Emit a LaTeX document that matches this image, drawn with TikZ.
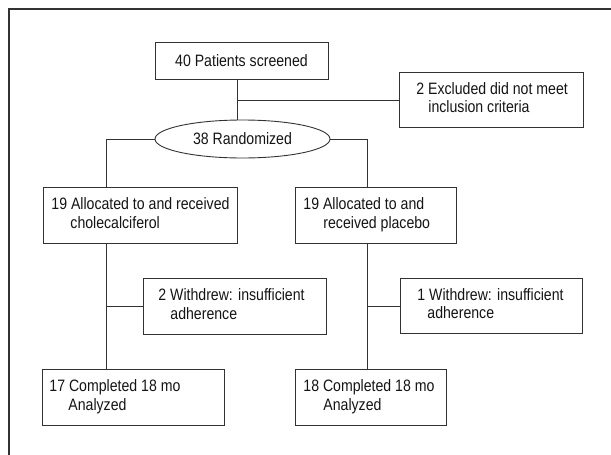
\documentclass[tikz,border=0pt]{standalone}
\usepackage{fontspec}
\setmainfont[FakeStretch=0.855]{Liberation Sans}
\usetikzlibrary{shapes.geometric}
\definecolor{ln}{RGB}{50,50,50}
\definecolor{tx}{RGB}{20,20,20}
\newcommand{\twol}[4]{\makebox[#1][l]{\begin{tabular}{@{}l@{}}#3\\\hspace*{#2}#4\end{tabular}}}
\begin{document}
\begin{tikzpicture}[x=1pt,y=-1pt,
  every node/.style={text=tx, font=\fontsize{16.5}{18.3}\selectfont},
  flowbox/.style={draw=ln, line width=0.9pt, inner ysep=0pt, anchor=north west, minimum height=56pt},
  conn/.style={draw=ln, line width=0.9pt},
  frame/.style={draw=ln, line width=1.3pt}]
\useasboundingbox (0,0) rectangle (611,455);
\draw[frame] (9,455) -- (9,9) -- (611,9);
% nodes
\node[draw=ln, line width=0.9pt, minimum width=173pt, minimum height=37pt, inner sep=0pt] (scr) at (241.5,60.5) {40 Patients screened};
\node[flowbox, minimum width=184pt, minimum height=55pt, inner xsep=17pt] (exc) at (399,72) {\twol{150pt}{12pt}{2 Excluded did not meet}{inclusion criteria}};
\node[ellipse, draw=ln, line width=0.9pt, minimum width=175pt, minimum height=38pt, inner sep=0pt] (rand) at (242.5,139) {38 Randomized};
\node[flowbox, minimum width=194pt, inner xsep=8pt] (alL) at (43,187) {\twol{178pt}{19pt}{19 Allocated to and received}{cholecalciferol}};
\node[flowbox, minimum width=161pt, inner xsep=8pt] (alR) at (295,187) {\twol{145pt}{20pt}{19 Allocated to and}{received placebo}};
\node[flowbox, minimum width=183pt, inner xsep=15pt] (wL) at (143,278) {\twol{153pt}{12pt}{2 Withdrew: insufficient}{adherence}};
\node[flowbox, minimum width=182pt, minimum height=55pt, inner xsep=17pt] (wR) at (400,278) {\twol{148pt}{10pt}{1 Withdrew: insufficient}{adherence}};
\node[flowbox, minimum width=182pt, inner xsep=7pt] (cL) at (42,369) {\twol{168pt}{19pt}{17 Completed 18 mo}{Analyzed}};
\node[flowbox, minimum width=151pt, inner xsep=8pt] (cR) at (295,369) {\twol{135pt}{20pt}{18 Completed 18 mo}{Analyzed}};
% junction coordinates
\coordinate (j1) at (237,100);
\coordinate (xL) at (106,0);
\coordinate (xR) at (367,0);
% connectors
\draw[conn] (j1 |- scr.south) -- (j1 |- rand.north);
\draw[conn] (j1) -- (j1 -| exc.west);
\draw[conn] (rand.west) -| (xL |- alL.north);
\draw[conn] (rand.east) -| (xR |- alR.north);
\draw[conn] (xL |- alL.south) -- (xL |- cL.north);
\draw[conn] (xL |- wL.west) -- (wL.west);
\draw[conn] (xR |- alR.south) -- (xR |- cR.north);
\draw[conn] (xR |- wR.west) -- (wR.west);
\end{tikzpicture}
\end{document}
